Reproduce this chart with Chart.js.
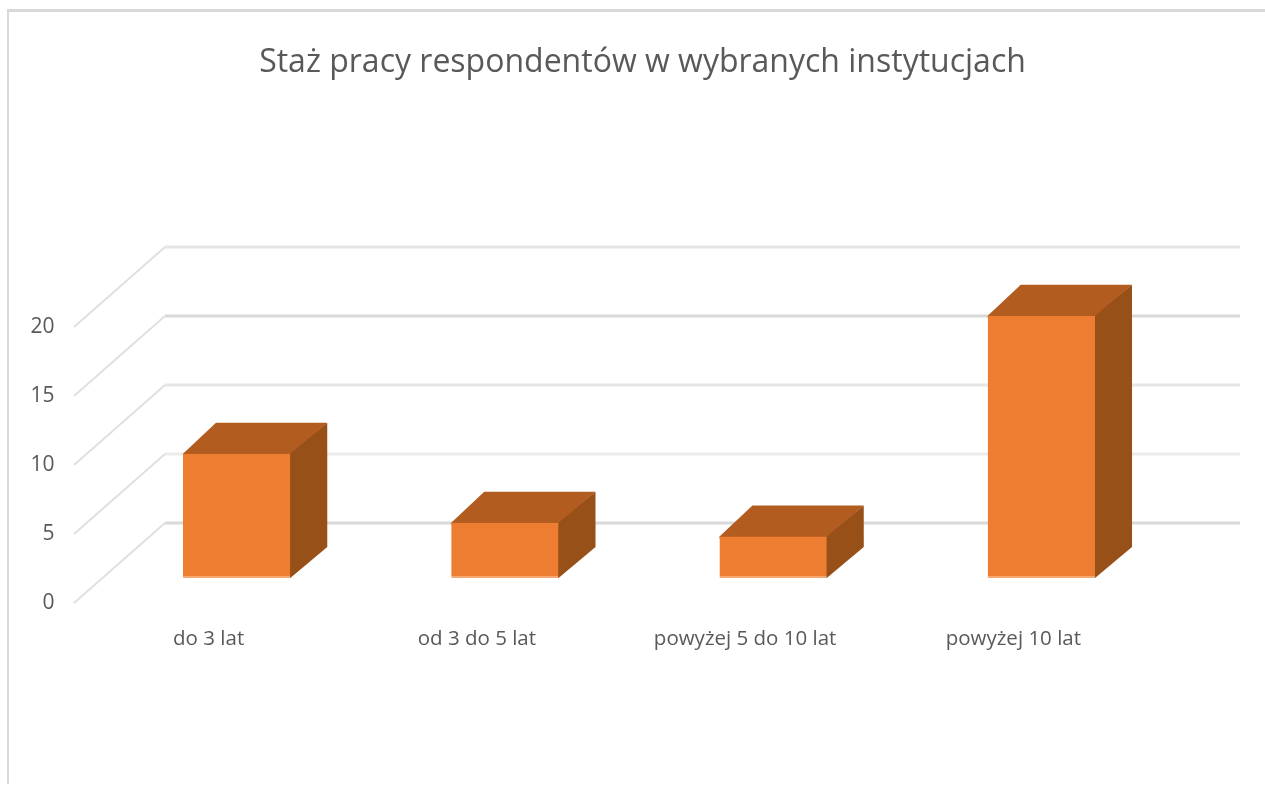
<!DOCTYPE html>
<html><head><meta charset="utf-8">
<style>
html,body{margin:0;padding:0;background:#fff;overflow:hidden}
#wrap{position:relative;width:1265px;height:787px}
#frame{position:absolute;left:7px;top:9px;right:0;height:775px;border-top:3px solid #d9d9d9;border-left:2px solid #d9d9d9;box-sizing:border-box}
canvas{position:absolute;left:0;top:0}
</style>
<script src="https://cdn.jsdelivr.net/npm/chart.js@4"></script>
</head><body>
<div id="wrap"><div id="frame"></div><canvas id="c" width="1265" height="787"></canvas></div>
<script>
const chartTitle = "Staż pracy respondentów w wybranych instytucjach";
const categories = ["do 3 lat","od 3 do 5 lat","powyżej 5 do 10 lat","powyżej 10 lat"];
const seriesValues = [9,4,3,19];
const yTicks = [0,5,10,15,20];
const gridShades = ["#d9d9d9","#ececec","#e6e6e6","#d9d9d9","#e6e6e6"];

const wall3d = {
  id:'wall3d',
  beforeDatasetsDraw(chart){
    const {ctx,scales:{y}} = chart;
    ctx.save();
    yTicks.forEach((v,i)=>{
      const yb = y.getPixelForValue(v)-55;
      ctx.strokeStyle = gridShades[i];
      ctx.lineWidth = 3;
      ctx.beginPath(); ctx.moveTo(165,yb); ctx.lineTo(1240,yb); ctx.stroke();
      ctx.lineWidth = 2;
      ctx.strokeStyle = "#e0e0e0";
      ctx.beginPath(); ctx.moveTo(165,yb); ctx.lineTo(74,yb+80); ctx.stroke();
    });
    chart.getDatasetMeta(0).data.forEach(b=>{
      const l=b.x-b.width/2, r=b.x+b.width/2, t=b.y, bs=b.base;
      ctx.fillStyle="#985019";
      ctx.beginPath();ctx.moveTo(r-2,t);ctx.lineTo(r+37,t-31);ctx.lineTo(r+37,bs-31);ctx.lineTo(r,bs);ctx.lineTo(r-2,bs);ctx.closePath();ctx.fill();
      ctx.fillStyle="#B35C20";
      ctx.beginPath();ctx.moveTo(l,t+2);ctx.lineTo(l,t);ctx.lineTo(l+33,t-31);ctx.lineTo(r+37,t-31);ctx.lineTo(r,t);ctx.lineTo(r,t+2);ctx.closePath();ctx.fill();
    });
    ctx.restore();
  }
};

new Chart(document.getElementById('c'),{
  type:'bar',
  data:{labels:categories,datasets:[{data:seriesValues,backgroundColor:"#ED7D31",borderColor:"#F5A970",
    borderWidth:{bottom:2,top:0,left:0,right:0},borderSkipped:false,barPercentage:0.4,categoryPercentage:1}]},
  plugins:[wall3d],
  options:{
    responsive:false,animation:false,
    layout:{padding:{left:20,right:0,top:0,bottom:0}},
    plugins:{
      legend:{display:false},tooltip:{enabled:false},
      title:{display:true,text:chartTitle,color:"#595959",
        font:{family:"'Open Sans'",size:32,weight:'normal',lineHeight:1.2},
        padding:{top:44,bottom:219.6}}
    },
    scales:{
      x:{grid:{display:false},border:{display:false},
        ticks:{color:"#595959",font:{family:"'Open Sans'",size:20.5},padding:41,labelOffset:-28,maxRotation:0},
        afterFit(s){s.height=209;}},
      y:{min:0,max:20,position:'left',grid:{display:false,drawTicks:false},border:{display:false},
        ticks:{stepSize:5,color:"#595959",font:{family:"'Open Sans'",size:21},padding:48,labelOffset:25},
        afterFit(s){s.width=82.5;}},
      yRight:{position:'right',grid:{display:false,drawTicks:false},border:{display:false},
        ticks:{display:false},afterFit(s){s.width=89.5;}}
    }
  }
});
</script>
</body></html>
